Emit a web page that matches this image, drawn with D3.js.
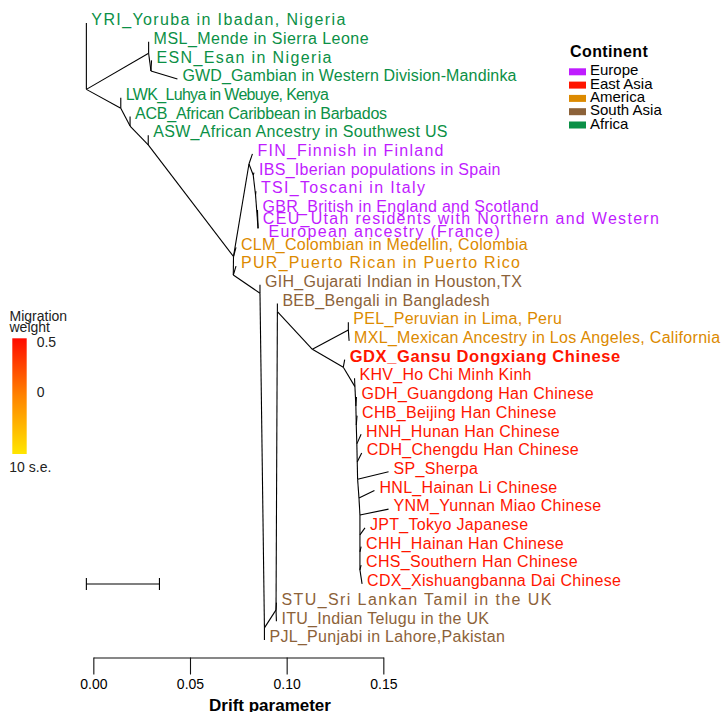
<!DOCTYPE html>
<html>
<head>
<meta charset="utf-8">
<script src="https://cdn.jsdelivr.net/npm/d3@7"></script>
<style>
  html, body { margin: 0; padding: 0; background: #fff; }
  svg { display: block; font-family: "Liberation Sans", Arial, Helvetica, sans-serif; }
</style>
</head>
<body>
<svg id="chart" width="728" height="712"></svg>
<script>
// ---- Tree tips (populations), listed top to bottom ----
const tipCodes = ["YRI","MSL","ESN","GWD","LWK","ACB","ASW","FIN","IBS","TSI","GBR","CEU",
  "CLM","PUR","GIH","BEB","PEL","MXL","GDX","KHV","GDH","CHB","HNH","CDH","SP","HNL","YNM",
  "JPT","CHH","CHS","CDX","STU","ITU","PJL"];
const tipNames = [
  "Yoruba in Ibadan, Nigeria", "Mende in Sierra Leone", "Esan in Nigeria",
  "Gambian in Western Division-Mandinka", "Luhya in Webuye, Kenya",
  "African Caribbean in Barbados", "African Ancestry in Southwest US",
  "Finnish in Finland", "Iberian populations in Spain", "Toscani in Italy",
  "British in England and Scotland",
  "Utah residents with Northern and Western\n European ancestry (France)",
  "Colombian in Medellin, Colombia", "Puerto Rican in Puerto Rico",
  "Gujarati Indian in Houston,TX", "Bengali in Bangladesh", "Peruvian in Lima, Peru",
  "Mexican Ancestry in Los Angeles, California", "Gansu Dongxiang Chinese",
  "Ho Chi Minh Kinh", "Guangdong Han Chinese", "Beijing Han Chinese", "Hunan Han Chinese",
  "Chengdu Han Chinese", "Sherpa", "Hainan Li Chinese", "Yunnan Miao Chinese",
  "Tokyo Japanese", "Hainan Han Chinese", "Southern Han Chinese", "Xishuangbanna Dai Chinese",
  "Sri Lankan Tamil in the UK", "Indian Telugu in the UK", "Punjabi in Lahore,Pakistan"];
const tipContinent = ["Africa","Africa","Africa","Africa","Africa","Africa","Africa",
  "Europe","Europe","Europe","Europe","Europe","America","America","South Asia","South Asia",
  "America","America","East Asia","East Asia","East Asia","East Asia","East Asia","East Asia",
  "East Asia","East Asia","East Asia","East Asia","East Asia","East Asia","East Asia",
  "South Asia","South Asia","South Asia"];
const tipDrift = [-0.0036, 0.0286, 0.0301, 0.0435, 0.0142, 0.0190, 0.0284,
  0.0823, 0.0831, 0.0841, 0.0849, 0.0851, 0.0738, 0.0738, 0.0862, 0.0952,
  0.1319, 0.1323, 0.1300, 0.1351, 0.1361, 0.1364, 0.1385, 0.1388, 0.1527, 0.1454, 0.1527,
  0.1405, 0.1385, 0.1385, 0.1390, 0.0947, 0.0947, 0.0885];
const tipParent = ["R","M1","M2","M2","L1","L2","L3","Eu1","Eu2","Eu3","Eu4","Eu4",
  "E0","N1","N2","S1","Am1","Am1","EA1","EA2","EA3","EA4","EA5","EA6","EA7","EA8","EA9",
  "EA10","EA11","EA12","EA12","P2","P2","P1"];

// ---- Internal nodes: drift, vertical position in tip-row units, parent ----
const nodeIds = ["R","M1","M2","L1","L2","L3","E0","Eu1","Eu2","Eu3","Eu4","N1","N2",
  "P1","P2","S1","A1","Am1","EA1","EA2","EA3","EA4","EA5","EA6","EA7","EA8","EA9",
  "EA10","EA11","EA12"];
const nodeDrift = [-0.0036, 0.0286, 0.0298, 0.0142, 0.0190, 0.0284, 0.0725, 0.0805,
  0.0827, 0.0839, 0.0852, 0.0724, 0.0862, 0.0885, 0.0945, 0.0952, 0.1133, 0.1319,
  0.1293, 0.1353, 0.1358, 0.1360, 0.1363, 0.1365, 0.1367, 0.1374, 0.1379, 0.1379,
  0.1379, 0.1379];
const nodeRow = [3.55, 1.62, 2.57, 4.56, 5.51, 6.52, 12.49, 7.54, 8.13, 9.2, 10.96,
  13.48, 14.45, 32.35, 31.39, 15.44, 17.45, 16.42, 18.41, 19.45, 20.48, 21.50, 22.51,
  23.48, 24.40, 25.40, 26.31, 27.38, 28.29, 29.25];
const nodeParent = [null,"R","M1","R","L1","L2","L3","E0","Eu1","Eu2","Eu3","E0","N1",
  "N2","P1","P2","S1","A1","A1","EA1","EA2","EA3","EA4","EA5","EA6","EA7","EA8","EA9",
  "EA10","EA11"];

// ---- Legends and axis ----
const continents = ["Europe","East Asia","America","South Asia","Africa"];
const driftTicks = [0, 0.05, 0.10, 0.15];
const migrationLabels = ["0.5", "0", "10 s.e."];
const scaleBarDrift = [-0.0036, 0.0342];   // 10 x average standard error
const highlightedTip = "GDX";

// ---- Styling ----
const continentColour = d3.scaleOrdinal()
  .domain(continents)
  .range(["#bf1cff", "#ff1500", "#dc8a00", "#8c6239", "#0b9046"]);
const migrationGradient = ["#ffe600", "#ff8400", "#ff0a00"]; // bottom -> top
// set widths (px) for labels whose lettering is stretched or condensed; one entry per line
const labelFit = { YRI: [254], MSL: [215], ESN: [175], LWK: [203], ACB: [252], GWD: [334],
  FIN: [186], TSI: [164], CEU: [396, 237], PUR: [279], STU: [270] };

const svg = d3.select("#chart");
svg.append("rect").attr("width", 728).attr("height", 712).attr("fill", "#fff");

const x = d3.scaleLinear().domain([0, 0.15]).range([93.33, 383.33]);
const y = d3.scaleLinear().domain([0, tipCodes.length - 1]).range([23, 640]);

// positions of every node in the tree
const pos = new Map();
nodeIds.forEach((id, i) => pos.set(id, { x: x(nodeDrift[i]), y: y(nodeRow[i]) }));
tipCodes.forEach((id, i) => pos.set(id, { x: x(tipDrift[i]), y: y(i) }));

const edges = [];
nodeIds.forEach((id, i) => { if (nodeParent[i]) edges.push([nodeParent[i], id]); });
tipCodes.forEach((id, i) => edges.push([tipParent[i], id]));

// branches
svg.append("g")
  .attr("stroke", "#000")
  .attr("stroke-width", 1.1)
  .selectAll("line")
  .data(edges)
  .join("line")
  .attr("x1", d => pos.get(d[0]).x)
  .attr("y1", d => pos.get(d[0]).y)
  .attr("x2", d => pos.get(d[1]).x)
  .attr("y2", d => pos.get(d[1]).y);

// tip labels, one text element per line
const lineGap = 13;
const labelLines = [];
tipCodes.forEach((code, i) => {
  const lines = (code + "_" + tipNames[i]).split("\n");
  const cy = pos.get(code).y - 3.5 - (lines.length - 1) * lineGap / 2;
  lines.forEach((t, k) => labelLines.push({
    code, text: t, cont: tipContinent[i], x: pos.get(code).x + 5,
    y: cy + k * lineGap + 5.7, fit: labelFit[code] ? labelFit[code][k] : null
  }));
});

svg.append("g").selectAll("text")
  .data(labelLines)
  .join("text")
  .attr("x", d => d.x)
  .attr("y", d => d.y)
  .attr("fill", d => continentColour(d.cont))
  .attr("font-size", d => d.code === highlightedTip ? 16.5 : 16)
  .attr("font-weight", d => d.code === highlightedTip ? "bold" : "normal")
  .attr("letter-spacing", d => d.fit ? null : (d.code === highlightedTip ? 0.6 : 0.3))
  .attr("textLength", d => d.fit)
  .attr("lengthAdjust", d => d.fit ? "spacing" : null)
  .style("white-space", "pre")
  .text(d => d.text);

// scale bar
const sbY = 584;
const sb = svg.append("g").attr("stroke", "#000").attr("stroke-width", 1.1);
sb.append("line").attr("x1", x(scaleBarDrift[0])).attr("x2", x(scaleBarDrift[1]))
  .attr("y1", sbY).attr("y2", sbY);
scaleBarDrift.forEach(v => sb.append("line")
  .attr("x1", x(v)).attr("x2", x(v)).attr("y1", sbY - 6).attr("y2", sbY + 6));

// drift axis
const axis = svg.append("g")
  .attr("transform", "translate(0,657.5)")
  .call(d3.axisBottom(x).tickValues(driftTicks).tickFormat(d3.format(".2f"))
    .tickSize(17).tickSizeOuter(0).tickPadding(5));
axis.selectAll("path, line").attr("stroke", "#111").attr("stroke-width", 1.1);
axis.selectAll("text").attr("font-size", 14).attr("fill", "#000")
  .attr("font-family", "'Liberation Sans', Arial, sans-serif");

svg.append("text")
  .attr("x", 270).attr("y", 711)
  .attr("text-anchor", "middle")
  .attr("font-size", 17).attr("font-weight", "bold")
  .text("Drift parameter");

// continent legend
const leg = svg.append("g").attr("transform", "translate(569,0)");
leg.append("text").attr("x", 1).attr("y", 56.5)
  .attr("font-size", 16).attr("font-weight", "bold").attr("letter-spacing", 0.4)
  .text("Continent");
const legItems = leg.selectAll("g.item").data(continents).join("g")
  .attr("class", "item")
  .attr("transform", (d, i) => `translate(0,${68.3 + i * 13.3})`);
legItems.append("rect").attr("width", 17).attr("height", 7)
  .attr("fill", d => continentColour(d));
legItems.append("text").attr("x", 21).attr("y", 7)
  .attr("font-size", 15).attr("fill", "#000").text(d => d);

// migration weight legend
const mg = svg.append("g");
const defs = svg.append("defs");
const grad = defs.append("linearGradient").attr("id", "migGrad")
  .attr("x1", 0).attr("y1", 1).attr("x2", 0).attr("y2", 0);
migrationGradient.forEach((c, i) => grad.append("stop")
  .attr("offset", i / (migrationGradient.length - 1)).attr("stop-color", c));
const bar = { x: 12.3, y: 338.3, w: 14.4, h: 115.7 };
mg.append("rect").attr("x", bar.x).attr("y", bar.y).attr("width", bar.w).attr("height", bar.h)
  .attr("fill", "url(#migGrad)");
mg.append("text").attr("x", 9.5).attr("y", 321).attr("font-size", 14).attr("fill", "#222")
  .text("Migration");
mg.append("text").attr("x", 9.5).attr("y", 331.5).attr("font-size", 14).attr("fill", "#222")
  .text("weight");
mg.append("text").attr("x", 36.7).attr("y", bar.y + 8.5).attr("font-size", 14).attr("fill", "#222")
  .text(migrationLabels[0]);
mg.append("text").attr("x", 36.7).attr("y", bar.y + bar.h / 2 + 0.5).attr("font-size", 14).attr("fill", "#222")
  .text(migrationLabels[1]);
mg.append("text").attr("x", 9.3).attr("y", bar.y + bar.h + 17.5).attr("font-size", 14).attr("fill", "#222")
  .text(migrationLabels[2]);
</script>
</body>
</html>
